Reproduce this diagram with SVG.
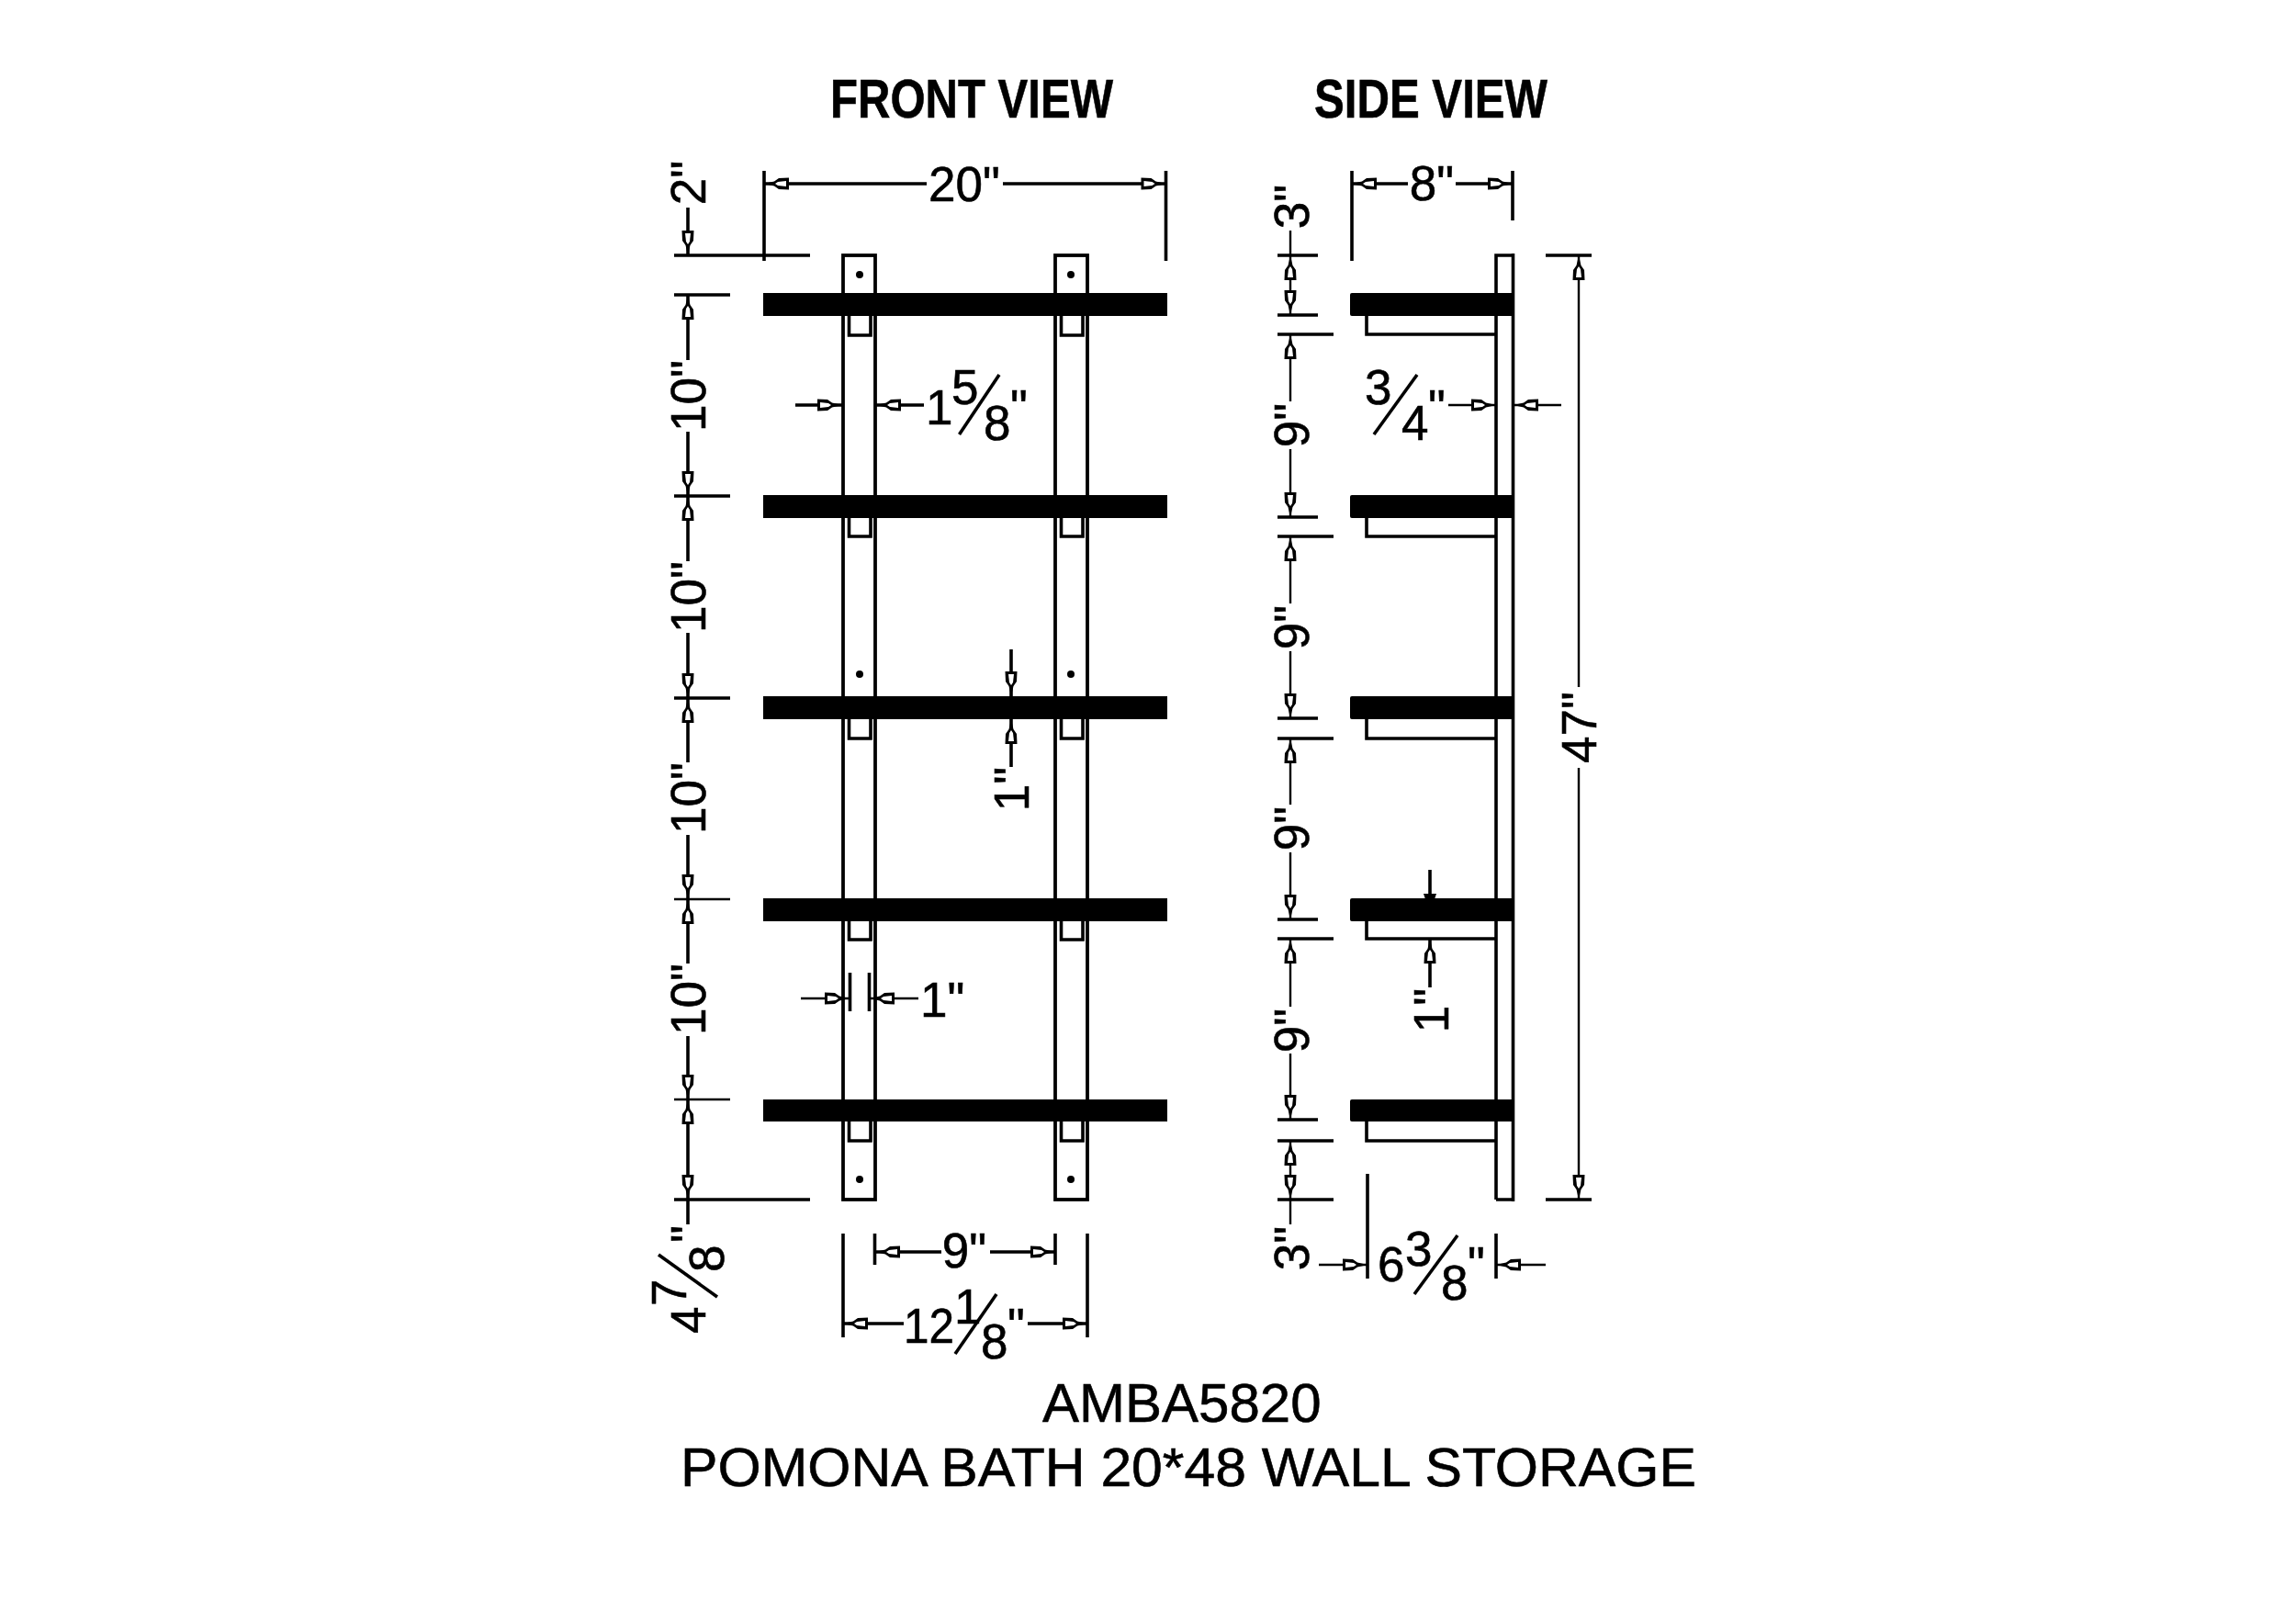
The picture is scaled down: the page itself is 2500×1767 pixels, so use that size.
<svg xmlns="http://www.w3.org/2000/svg" width="2500" height="1767" viewBox="0 0 2500 1767">
<style>
text{font-family:"Liberation Sans",Arial,sans-serif;fill:#000;stroke:#000;stroke-width:.6}
.d{font-size:53px}
.t{font-size:60px;font-weight:700}
.c{font-size:60px}
.m{text-anchor:middle}
.l{stroke:#000;stroke-width:3.600;fill:none}
.b{stroke:#000;stroke-width:3.800;fill:#fff}
.s{fill:#000}
.a{marker-end:url(#arr)}
.th{stroke-width:2.400}
</style>
<defs>
<marker id="arr" markerUnits="userSpaceOnUse" markerWidth="32" markerHeight="20" refX="28" refY="10" orient="auto">
<path d="M28 10 17 7.500 12 4 1 3.500V16.500L12 16 17 12.500Z" fill="#000"/>
<path d="M4 7 13 8 16 10 13 12 4 13Z" fill="#fff"/>
</marker>
</defs>
<rect width="2500" height="1767" fill="#fff"/>
<g id="titles">
<text class="t" x="904" y="128" textLength="308" lengthAdjust="spacingAndGlyphs">FRONT VIEW</text>
<text class="t" x="1431" y="128" textLength="254" lengthAdjust="spacingAndGlyphs">SIDE VIEW</text>
<text class="c" x="1135" y="1548">AMBA5820</text>
<text class="c" x="741" y="1618" textLength="1106" lengthAdjust="spacingAndGlyphs">POMONA BATH 20*48 WALL STORAGE</text>
</g>
<g id="front-view">
<g id="front-upright-left"><rect class="b" x="918" y="278" width="35" height="1028"/>
<path class="l" d="M924.500 344V365H948V344M924.500 564V584H948V564M924.500 783V804H948V783M924.500 1003V1023H948V1003M924.500 1221V1242H948V1221"/>
<circle cx="936" cy="299" r="4"/><circle cx="936" cy="734" r="4"/><circle cx="936" cy="1284" r="4"/></g>
<g id="front-upright-right"><rect class="b" x="1149" y="278" width="35" height="1028"/>
<path class="l" d="M1155.500 344V365H1179V344M1155.500 564V584H1179V564M1155.500 783V804H1179V783M1155.500 1003V1023H1179V1003M1155.500 1221V1242H1179V1221"/>
<circle cx="1166" cy="299" r="4"/><circle cx="1166" cy="734" r="4"/><circle cx="1166" cy="1284" r="4"/></g>
<g id="front-shelves">
<rect class="s" x="831" y="319" width="440" height="25"/>
<rect class="s" x="831" y="539" width="440" height="25"/>
<rect class="s" x="831" y="758" width="440" height="25"/>
<rect class="s" x="831" y="978" width="440" height="25"/>
<rect class="s" x="831" y="1197" width="440" height="24"/>
</g>
</g>
<g id="side-view">
<g id="side-upright"><path class="l" d="M1629 1306V278H1647.500M1629 1306H1647.500"/><path class="l" stroke-width="4.500" d="M1647.500 276V1308"/></g>
<g id="side-brackets">
<path class="l" d="M1488 344V364H1629M1488 564V584H1629M1488 783V804H1629M1488 1003V1022H1629M1488 1221V1242H1629"/>
</g>
<g id="side-shelves">
<rect class="s" x="1470" y="319" width="178" height="25" rx="2"/>
<rect class="s" x="1470" y="539" width="178" height="25" rx="2"/>
<rect class="s" x="1470" y="758" width="178" height="25" rx="2"/>
<rect class="s" x="1470" y="978" width="178" height="25" rx="2"/>
<rect class="s" x="1470" y="1197" width="178" height="24" rx="2"/>
</g>
</g>
<g id="connectors">
<path class="l" d="M832 186V284M1269.500 186V284M734 278H882M734 321H795M734 540H795M734 760H795M734 1306H882M918 1343V1456M1184 1343V1456M952.500 1343V1377M1149 1343V1377M925.500 1059V1101M946.500 1059V1101"/>
<path class="l th" d="M734 979H795M734 1197H795"/>
<path class="l" d="M1472 186V284M1647 186V240M1391 278H1435M1391 343H1435M1391 364H1452M1391 563H1435M1391 584H1452M1391 782H1435M1391 804H1452M1391 1001H1435M1391 1022H1452M1391 1219H1435M1391 1242H1452M1391 1306H1452M1683 278H1733M1683 1306H1733M1489 1278V1392M1629 1343V1392"/>
<path class="l a" d="M1009 200H832"/><path class="l a" d="M1092 200H1269.500"/>
<path class="l a" d="M866 441H917"/><path class="l a" d="M1006 441H954"/>
<path class="l th a" d="M872 1087H925"/><path class="l th a" d="M1000 1087H947"/>
<path class="l a" d="M1025 1363H953"/><path class="l a" d="M1078 1363H1149"/>
<path class="l a" d="M984 1441H918"/><path class="l a" d="M1119 1441H1184"/>
<path class="l a" d="M749 226V278"/>
<path class="l a" d="M749 392V321"/><path class="l a" d="M749 470V540"/>
<path class="l a" d="M749 611V540"/><path class="l a" d="M749 689V760"/>
<path class="l a" d="M749 830V760"/><path class="l a" d="M749 909V979"/>
<path class="l a" d="M749 1049V979"/><path class="l a" d="M749 1128V1197"/>
<path class="l a" d="M749 1251V1197"/><path class="l a" d="M749 1251V1306"/>
<path class="l" d="M749 1306V1333"/>
<path class="l a" d="M1101 707V758"/><path class="l a" d="M1101 835V783"/>
<path class="l a" d="M1533 200H1472"/><path class="l a" d="M1585 200H1647"/>
<path class="l th a" d="M1577 441H1629"/><path class="l th a" d="M1700 441H1648"/>
<path class="l th a" d="M1436 1377H1489"/><path class="l th a" d="M1683 1377H1629"/>
<path class="l th" d="M1405 251V278"/>
<path class="l th a" d="M1405 311V278"/><path class="l th a" d="M1405 311V343"/>
<path class="l th a" d="M1405 437V364"/><path class="l th a" d="M1405 489V563"/>
<path class="l th a" d="M1405 657V584"/><path class="l th a" d="M1405 709V782"/>
<path class="l th a" d="M1405 876V804"/><path class="l th a" d="M1405 928V1001"/>
<path class="l th a" d="M1405 1096V1022"/><path class="l th a" d="M1405 1147V1219"/>
<path class="l th a" d="M1405 1274V1242"/><path class="l th a" d="M1405 1274V1306"/>
<path class="l th" d="M1405 1306V1333"/>
<path class="l" d="M1557 947V975"/><path class="s" d="M1550 973H1564L1562 979H1552Z"/>
<path class="l a" d="M1557 1075V1022"/>
<path class="l th a" d="M1719 748V278"/><path class="l th a" d="M1719 836V1306"/>
</g>
<g id="dimension-labels">
<text class="d m" x="1050" y="219">20"</text>
<text class="d" x="1008" y="462">1</text><text class="d" x="1036" y="440">5</text><text class="d" x="1071" y="479">8</text><text class="d" x="1100" y="462">"</text>
<path class="l" d="M1088 408 1044.500 473"/>
<text class="d" x="1002" y="1107">1"</text>
<text class="d m" x="1050" y="1380">9"</text>
<text class="d" x="984" y="1462" textLength="55" lengthAdjust="spacingAndGlyphs">12</text><text class="d" x="1039" y="1441">1</text><text class="d" x="1068" y="1479">8</text><text class="d" x="1097" y="1462">"</text>
<path class="l" d="M1085 1409 1040 1474"/>
<text class="d m" transform="translate(768 199) rotate(-90)">2"</text>
<text class="d m" transform="translate(768 431) rotate(-90)">10"</text>
<text class="d m" transform="translate(768 650) rotate(-90)">10"</text>
<text class="d m" transform="translate(768 869) rotate(-90)">10"</text>
<text class="d m" transform="translate(768 1088) rotate(-90)">10"</text>
<text class="d" transform="translate(768 1452) rotate(-90)">4</text><text class="d" transform="translate(747 1422) rotate(-90)">7</text><text class="d" transform="translate(788 1385) rotate(-90)">8</text><text class="d" transform="translate(768 1353) rotate(-90)">"</text>
<path class="l" d="M717 1366 781 1412"/>
<text class="d m" transform="translate(1120 859) rotate(-90)">1"</text>
<text class="d m" x="1559" y="218">8"</text>
<text class="d" x="1486" y="440">3</text><text class="d" x="1526" y="479">4</text><text class="d" x="1555" y="462">"</text>
<path class="l" d="M1543 408 1496 473"/>
<text class="d" x="1500" y="1395">6</text><text class="d" x="1530" y="1378">3</text><text class="d" x="1569" y="1415">8</text><text class="d" x="1598" y="1395">"</text>
<path class="l" d="M1587 1345 1540 1409"/>
<text class="d m" transform="translate(1425 225) rotate(-90)">3"</text>
<text class="d m" transform="translate(1425 463) rotate(-90)">9"</text>
<text class="d m" transform="translate(1425 683) rotate(-90)">9"</text>
<text class="d m" transform="translate(1425 902) rotate(-90)">9"</text>
<text class="d m" transform="translate(1425 1122) rotate(-90)">9"</text>
<text class="d m" transform="translate(1425 1359) rotate(-90)">3"</text>
<text class="d m" transform="translate(1577 1100) rotate(-90)">1"</text>
<text class="d m" transform="translate(1738 792) rotate(-90)">47"</text>
</g>
</svg>
